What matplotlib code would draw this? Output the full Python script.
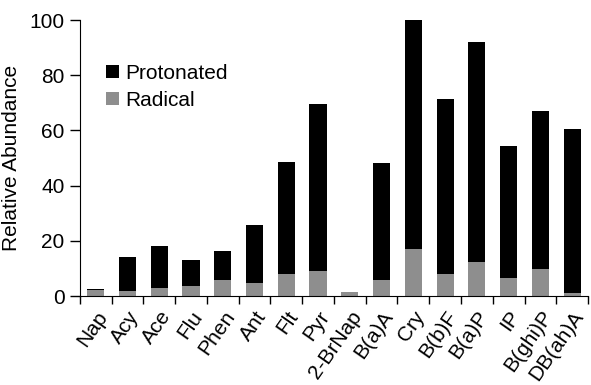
import numpy as np
import matplotlib
matplotlib.use("Agg")
from matplotlib import pyplot as plt

plt.rcParams['font.family'] = ['Liberation Sans', 'DejaVu Sans']

compounds = ["Nap", "Acy", "Ace", "Flu", "Phen", "Ant", "Flt", "Pyr", "2-BrNap",
             "B(a)A", "Cry", "B(b)F", "B(a)P", "IP", "B(ghi)P", "DB(ah)A"]
radical = [2.3, 1.8, 3.1, 3.7, 5.7, 4.7, 8.0, 9.2, 1.5, 6.0, 17.1, 7.9, 12.3, 6.4, 9.8, 1.2]
total = [2.5, 14.1, 18.2, 12.9, 16.4, 25.8, 48.7, 69.6, 1.5, 48.3, 100.0, 71.5, 92.0, 54.3, 67.0, 60.7]
protonated = [t - r for t, r in zip(total, radical)]

fs = 15

fig = plt.figure(figsize=(5.91, 3.85), dpi=100)
ax = fig.add_axes([0.135, 0.231, 0.86, 0.717])

x = np.arange(len(compounds))
ax.bar(x, radical, width=0.54, color='#8e8e8e', label='Radical')
ax.bar(x, protonated, width=0.54, bottom=radical, color='black', label='Protonated')

ax.set_xlim(-0.5, len(compounds) - 0.5)
ax.set_ylim(0, 100)
ax.set_yticks([0, 20, 40, 60, 80, 100])
ax.set_ylabel('Relative Abundance', fontsize=fs, labelpad=6)
ax.tick_params(axis='y', labelsize=fs, direction='out', length=7, width=1, pad=4)

ax.set_xticks(x)
ax.set_xticklabels(compounds, rotation=55, ha='right', rotation_mode='anchor', fontsize=fs)
ax.tick_params(axis='x', which='major', length=0, pad=8)
ax.set_xticks(np.arange(-0.5, len(compounds)), minor=True)
ax.tick_params(axis='x', which='minor', direction='out', length=6, width=1)

for s in ['top', 'right']:
    ax.spines[s].set_visible(False)

h, l = ax.get_legend_handles_labels()
ax.legend(h[::-1], l[::-1], loc='upper left', bbox_to_anchor=(0.015, 0.91), frameon=False,
          fontsize=fs, handlelength=0.6, handleheight=0.6, handletextpad=0.3, labelspacing=0.4)

fig.savefig('out.png', dpi=100)
